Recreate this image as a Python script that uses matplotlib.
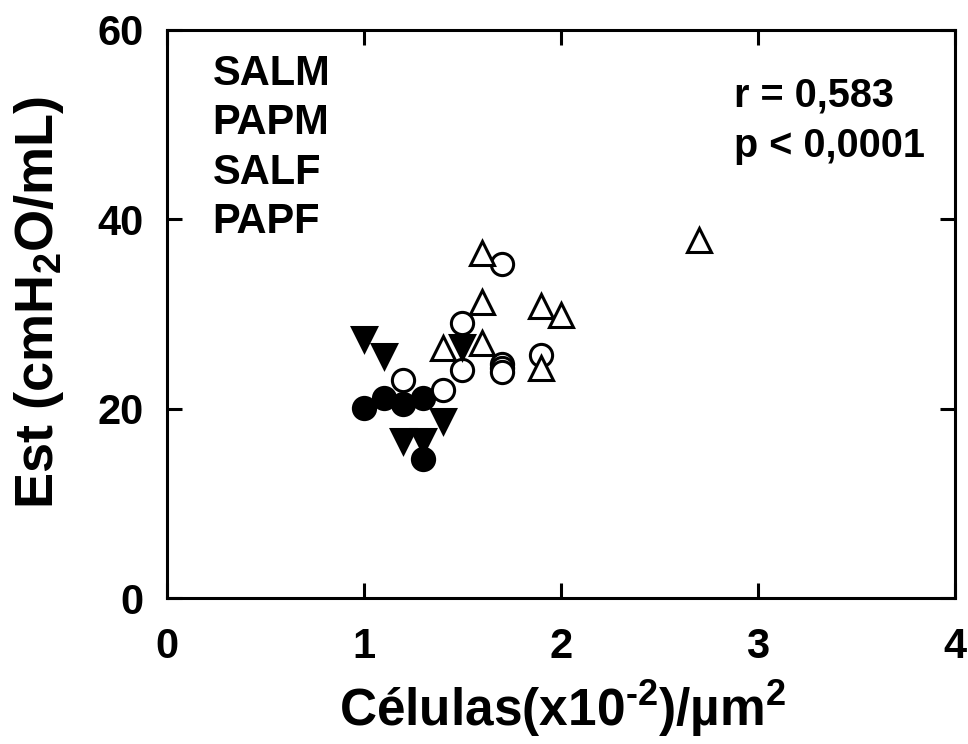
import matplotlib
matplotlib.use("Agg")
import matplotlib.pyplot as plt

plt.rcParams['font.family'] = ['Liberation Sans', 'DejaVu Sans']
plt.rcParams['font.weight'] = 'bold'
plt.rcParams['mathtext.fontset'] = 'custom'
plt.rcParams['mathtext.rm'] = 'Liberation Sans:bold'
plt.rcParams['mathtext.it'] = 'Liberation Sans:bold'
plt.rcParams['mathtext.bf'] = 'Liberation Sans:bold'

# Data
salm_x = [1.0, 1.1, 1.2, 1.3, 1.3]
salm_y = [20.1, 21.1, 20.5, 21.1, 14.7]
papm_x = [1.2, 1.4, 1.5, 1.5, 1.7, 1.7, 1.7, 1.7, 1.9]
papm_y = [23.0, 22.0, 29.1, 24.1, 35.3, 24.7, 24.3, 23.9, 25.7]
salf_x = [1.0, 1.1, 1.2, 1.3, 1.4, 1.5]
salf_y = [27.4, 25.6, 16.6, 16.6, 18.7, 26.5]
papf_x = [1.4, 1.6, 1.6, 1.6, 1.9, 1.9, 2.0, 2.7]
papf_y = [26.4, 36.4, 31.3, 26.9, 30.8, 24.3, 29.9, 37.8]
group_labels = ["SALM", "PAPM", "SALF", "PAPF"]
stats_text = ["r = 0,583", "p < 0,0001"]
x_ticks = [0, 1, 2, 3, 4]
y_ticks = [0, 20, 40, 60]
x_label = r'Células(x10$^{\text{-2}}$)/µm$^{2}$'
y_label = 'Est (cmH$_{2}$O/mL)'

fig = plt.figure(figsize=(9.68, 7.44), dpi=100)
ax = fig.add_axes([0.1725, 0.1962, 0.9866 - 0.1725, 0.9597 - 0.1962])

mew = 2.2
ax.plot(salm_x, salm_y, 'o', ms=16, mfc='black', mec='black', mew=mew, ls='none')
ax.plot(papm_x, papm_y, 'o', ms=16, mfc='white', mec='black', mew=mew, ls='none')
ax.plot(salf_x, salf_y, 'v', ms=17, mfc='black', mec='black', mew=mew, ls='none')
ax.plot(papf_x, papf_y, '^', ms=17, mfc='white', mec='black', mew=mew, ls='none')

ax.set_xlim(0, 4)
ax.set_ylim(0, 60)
ax.set_xticks(x_ticks)
ax.set_yticks(y_ticks)
ax.tick_params(direction='in', length=11, width=2.2, labelsize=30,
               top=True, right=True)
ax.tick_params(axis='x', pad=21)
ax.tick_params(axis='y', pad=17)
for lab in ax.get_xticklabels() + ax.get_yticklabels():
    lab.set_fontweight('bold')
for s in ax.spines.values():
    s.set_linewidth(2.2)

W, H = 968.0, 744.0
fig.text(563 / W, 1 - 726 / H, x_label, fontsize=37, fontweight='bold',
         ha='center', va='baseline')
fig.text(53 / W, 1 - 302 / H, y_label, fontsize=39, fontweight='bold',
         rotation=90, rotation_mode='anchor', ha='center', va='baseline')

for i, g in enumerate(group_labels):
    ax.text(0.058, 0.958 - i * 0.087, g, transform=ax.transAxes, fontsize=30,
            fontweight='bold', va='top', ha='left')
for i, t in enumerate(stats_text):
    ax.text(0.72, 0.918 - i * 0.088, t, transform=ax.transAxes, fontsize=28.5,
            fontweight='bold', va='top', ha='left')

fig.savefig('out.png', dpi=100)
